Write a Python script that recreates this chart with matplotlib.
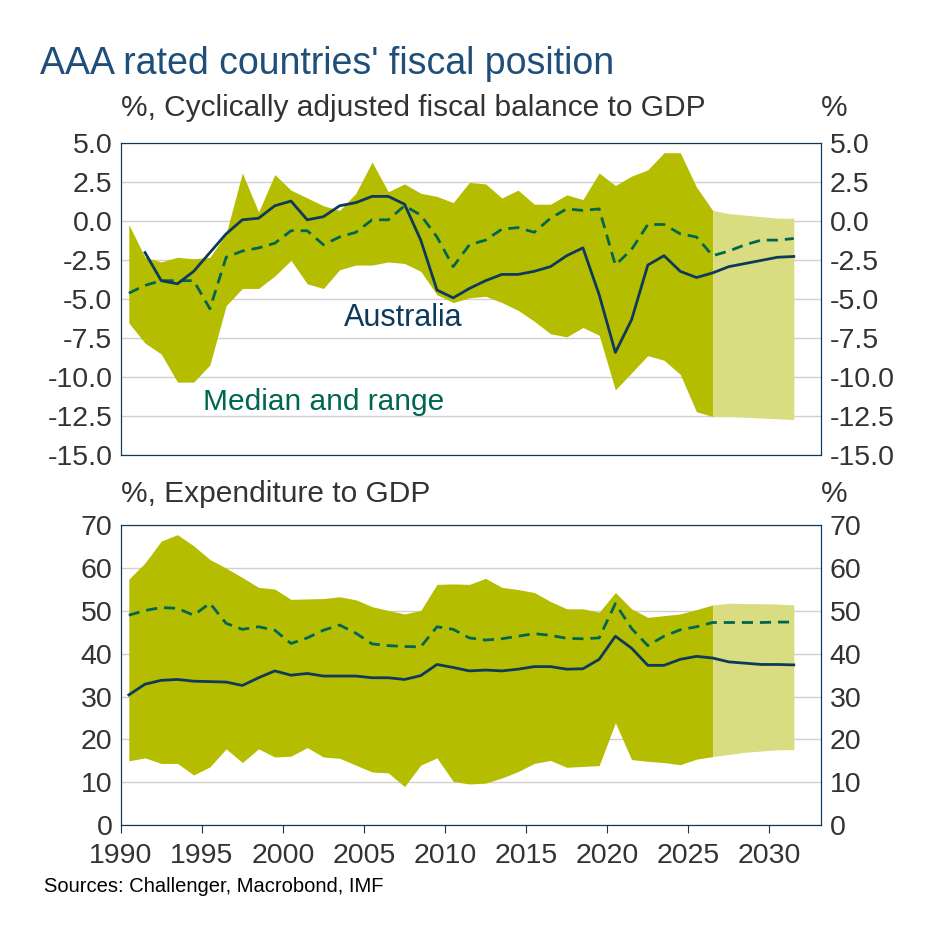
import numpy as np
import matplotlib
matplotlib.use("Agg")
import matplotlib.pyplot as plt

plt.rcParams["font.family"] = ["Liberation Sans", "DejaVu Sans"]

years = np.arange(1990, 2032) + 0.5
n_hist = 37  # up to 2026.5, rest is projection

# Cyclically adjusted fiscal balance, % of GDP
bal_hi = [-0.2, -2.3, -2.6, -2.3, -2.4, -2.3, -0.8, 3.1, 0.6, 3.0, 2.0, 1.5, 1.0, 0.7,
          1.8, 3.8, 1.9, 2.4, 1.8, 1.6, 1.2, 2.5, 2.4, 1.5, 2.0, 1.1, 1.1, 1.7, 1.4, 3.1,
          2.3, 2.9, 3.3, 4.4, 4.4, 2.2, 0.7, 0.5, 0.4, 0.3, 0.2, 0.2]
bal_lo = [-6.5, -7.8, -8.5, -10.3, -10.3, -9.2, -5.4, -4.3, -4.3, -3.5, -2.5, -4.0, -4.3,
          -3.1, -2.8, -2.8, -2.6, -2.7, -3.2, -4.7, -5.2, -4.9, -4.8, -5.2, -5.7, -6.4,
          -7.2, -7.4, -6.8, -7.3, -10.8, -9.7, -8.6, -8.9, -9.8, -12.2, -12.5, -12.5,
          -12.55, -12.6, -12.65, -12.7]
bal_med = [-4.6, -4.1, -3.8, -3.8, -3.8, -5.6, -2.3, -1.9, -1.7, -1.4, -0.6, -0.6, -1.5,
           -1.0, -0.7, 0.1, 0.1, 1.0, 0.4, -1.0, -2.9, -1.5, -1.2, -0.5, -0.4, -0.7, 0.2,
           0.8, 0.7, 0.8, -2.8, -1.8, -0.2, -0.2, -0.8, -1.0, -2.2, -1.9, -1.5, -1.2,
           -1.2, -1.1]
bal_aus = [np.nan, -2.0, -3.8, -4.0, -3.2, -2.0, -0.8, 0.1, 0.2, 1.0, 1.3, 0.1, 0.3, 1.0,
           1.2, 1.6, 1.6, 1.1, -1.2, -4.4, -4.9, -4.3, -3.8, -3.4, -3.4, -3.2, -2.9, -2.2,
           -1.7, -4.7, -8.4, -6.3, -2.8, -2.2, -3.2, -3.6, -3.3, -2.9, -2.7, -2.5, -2.3,
           -2.25]

# Expenditure, % of GDP
exp_hi = [57.4, 61.2, 66.3, 67.8, 65.2, 62.0, 60.0, 57.8, 55.5, 55.1, 52.7, 52.8, 52.9,
          53.3, 52.6, 51.0, 50.1, 49.3, 50.1, 56.2, 56.3, 56.2, 57.6, 55.5, 55.0, 54.3,
          52.2, 50.5, 50.5, 49.7, 54.3, 50.5, 48.5, 48.9, 49.3, 50.3, 51.4, 51.8, 51.7,
          51.7, 51.6, 51.4]
exp_lo = [15.0, 15.7, 14.4, 14.4, 11.7, 13.6, 17.8, 14.6, 17.8, 15.9, 16.1, 18.1, 15.9,
          15.6, 14.0, 12.4, 12.2, 9.0, 14.0, 15.7, 10.2, 9.6, 9.8, 11.0, 12.5, 14.4, 15.1,
          13.5, 13.7, 13.9, 23.9, 15.3, 14.9, 14.6, 14.1, 15.4, 16.0, 16.5, 17.0, 17.3,
          17.6, 17.6]
exp_med = [49.0, 50.1, 50.8, 50.6, 49.0, 51.8, 47.1, 45.7, 46.3, 45.5, 42.4, 43.7, 45.5,
           46.7, 44.8, 42.3, 41.9, 41.7, 41.6, 46.3, 45.7, 43.7, 43.2, 43.5, 44.1, 44.7,
           44.3, 43.6, 43.5, 43.7, 51.7, 45.9, 41.9, 44.1, 45.6, 46.3, 47.3, 47.3, 47.3,
           47.3, 47.4, 47.4]
exp_aus = [30.4, 32.9, 33.8, 34.0, 33.6, 33.5, 33.4, 32.6, 34.4, 36.0, 35.0, 35.4, 34.8,
           34.8, 34.8, 34.4, 34.4, 34.0, 34.9, 37.5, 36.8, 36.0, 36.2, 36.0, 36.4, 37.0,
           37.0, 36.4, 36.5, 38.7, 44.1, 41.3, 37.3, 37.3, 38.7, 39.4, 39.0, 38.1, 37.8,
           37.5, 37.5, 37.4]

navy = "#0d3a5c"
green = "#00664f"
band = "#b5bd00"
band_fc = "#d9dc80"
title_c = "#1f4e79"
txt = "#333333"
tick_fs = 20.5

fig = plt.figure(figsize=(9.43, 9.43), dpi=100)
ax1 = fig.add_axes([0.128, 0.517, 0.743, 0.331])
ax2 = fig.add_axes([0.128, 0.125, 0.743, 0.318])


def draw(ax, hi, lo, med, aus, ylim, yticks, fmt):
    h = n_hist
    ax.fill_between(years[:h], lo[:h], hi[:h], color=band, lw=0)
    ax.fill_between(years[h - 1:], lo[h - 1:], hi[h - 1:], color=band_fc, lw=0)
    ax.plot(years, med, color=green, lw=2, ls=(0, (4, 2.5)))
    ax.plot(years, aus, color=navy, lw=2)
    ax.set_xlim(1990, 2033.2)
    ax.set_ylim(*ylim)
    ax.set_yticks(yticks)
    ax.set_yticklabels([fmt.format(v) for v in yticks])
    ax.grid(axis="y", color="#d0d0d0", lw=1)
    ax.set_axisbelow(True)
    for s in ax.spines.values():
        s.set_color(navy)
    ax.tick_params(axis="y", length=0, labelsize=tick_fs, colors=txt, pad=6)
    axr = ax.twinx()
    axr.set_ylim(*ylim)
    axr.set_yticks(yticks)
    axr.set_yticklabels([fmt.format(v) for v in yticks])
    axr.tick_params(axis="y", length=0, labelsize=tick_fs, colors=txt, pad=6)
    for s in axr.spines.values():
        s.set_color(navy)
    return axr


draw(ax1, bal_hi, bal_lo, bal_med, bal_aus, (-15, 5), np.arange(-15, 5.1, 2.5), "{:.1f}")
draw(ax2, exp_hi, exp_lo, exp_med, exp_aus, (0, 70), np.arange(0, 71, 10), "{:.0f}")

ax1.set_xticks([])
ax2.set_xticks(np.arange(1990, 2031, 5))
ax2.tick_params(axis="x", direction="out", length=6, color=navy, labelsize=tick_fs,
                labelcolor=txt, pad=7)

ax1.text(2007.4, -6.2, "Australia", color=navy, fontsize=22, ha="center", va="center")
ax1.text(2002.5, -11.6, "Median and range", color=green, fontsize=21.5, ha="center",
         va="center")

fig.text(0.042, 0.932, "AAA rated countries' fiscal position", fontsize=27, color=title_c,
         va="center")
fig.text(0.128, 0.886, "%, Cyclically adjusted fiscal balance to GDP", fontsize=21.5,
         color=txt, va="center")
fig.text(0.885, 0.886, "%", fontsize=21.5, color=txt, va="center", ha="center")
fig.text(0.128, 0.476, "%, Expenditure to GDP", fontsize=21.5, color=txt, va="center")
fig.text(0.885, 0.476, "%", fontsize=21.5, color=txt, va="center", ha="center")
fig.text(0.047, 0.06, "Sources: Challenger, Macrobond, IMF", fontsize=14.5, color="black",
         va="center")

fig.savefig("out.png", dpi=100)
